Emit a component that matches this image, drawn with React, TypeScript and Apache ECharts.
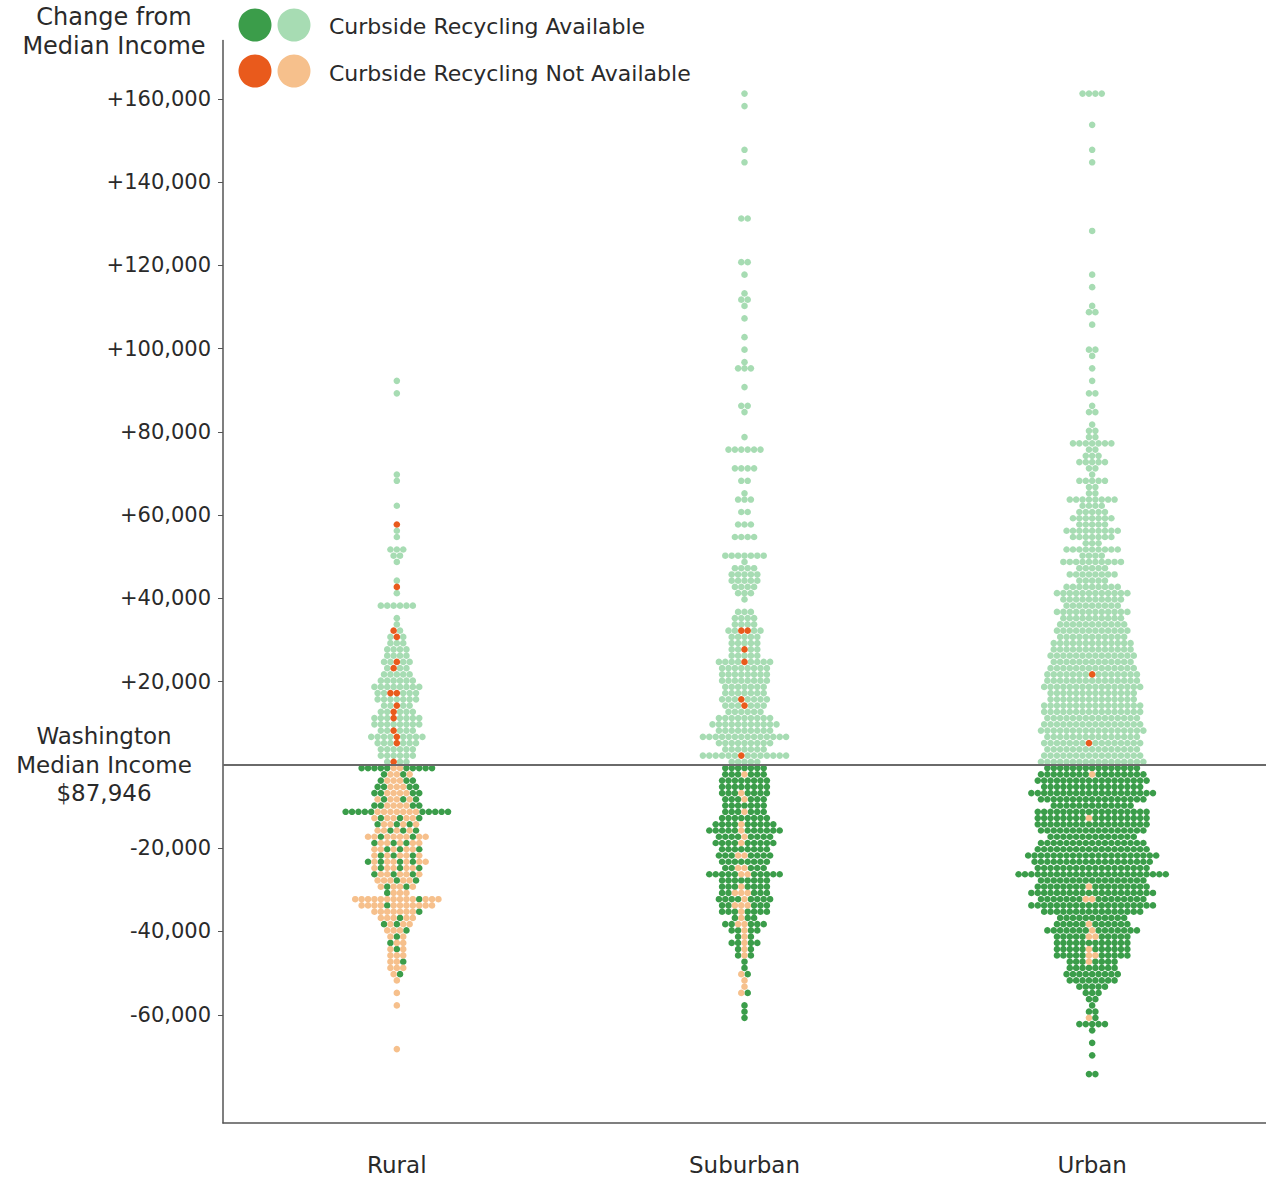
import React, { useEffect, useRef } from "react";
import * as echarts from "echarts";

// ---------------- data ----------------
const CATEGORIES = ["Rural", "Suburban", "Urban"];

// Dots are grouped in income levels (change from median income, USD),
// level i has value LEVEL_TOP - i * LEVEL_STEP. Arrays hold dot counts per level.
const LEVEL_TOP = 161250;
const LEVEL_STEP = 1500;

const RURAL_AVAIL = [
  0, 0, 0, 0, 0, 0, 0, 0, 0, 0,
  0, 0, 0, 0, 0, 0, 0, 0, 0, 0,
  0, 0, 0, 0, 0, 0, 0, 0, 0, 0,
  0, 0, 0, 0, 0, 0, 0, 0, 0, 0,
  0, 0, 0, 0, 0, 0, 1, 0, 1, 0,
  0, 0, 0, 0, 0, 0, 0, 0, 0, 0,
  0, 1, 1, 0, 0, 0, 1, 0, 0, 0,
  1, 1, 0, 3, 2, 1, 0, 0, 1, 0,
  1, 0, 6, 0, 1, 1, 1, 2, 3, 4,
  4, 4, 3, 5, 6, 8, 5, 7, 4, 5,
  7, 8, 5, 8, 6, 6, 6, 3, 10, 2,
  3, 4, 4, 3, 4, 10, 3, 3, 3, 2,
  3, 3, 3, 4, 3, 3, 2, 2, 1, 1,
  1, 1, 1, 2, 1, 1, 1, 1, 0, 1,
  0, 1, 0, 0, 0, 0, 0, 0, 0, 0,
  0, 0, 0, 0, 0, 0, 0, 0,
];
const RURAL_NOT = [
  0, 0, 0, 0, 0, 0, 0, 0, 0, 0,
  0, 0, 0, 0, 0, 0, 0, 0, 0, 0,
  0, 0, 0, 0, 0, 0, 0, 0, 0, 0,
  0, 0, 0, 0, 0, 0, 0, 0, 0, 0,
  0, 0, 0, 0, 0, 0, 0, 0, 0, 0,
  0, 0, 0, 0, 0, 0, 0, 0, 0, 0,
  0, 0, 0, 0, 0, 0, 0, 0, 0, 1,
  0, 0, 0, 0, 0, 0, 0, 0, 0, 1,
  0, 0, 0, 0, 0, 0, 1, 1, 0, 0,
  0, 1, 1, 0, 0, 0, 2, 0, 1, 1,
  1, 0, 1, 1, 1, 0, 0, 1, 2, 3,
  3, 3, 4, 4, 4, 7, 5, 4, 4, 8,
  5, 5, 5, 6, 5, 5, 5, 4, 3, 13,
  11, 7, 5, 3, 3, 2, 2, 2, 3, 2,
  3, 1, 1, 0, 1, 0, 1, 0, 0, 0,
  0, 0, 0, 1, 0, 0, 0, 0,
];
const SUBURBAN_AVAIL = [
  1, 0, 1, 0, 0, 0, 0, 0, 0, 1,
  0, 1, 0, 0, 0, 0, 0, 0, 0, 0,
  2, 0, 0, 0, 0, 0, 0, 2, 0, 1,
  0, 0, 1, 2, 1, 0, 1, 0, 0, 1,
  0, 1, 0, 1, 3, 0, 0, 1, 0, 0,
  2, 1, 0, 0, 0, 1, 0, 6, 0, 0,
  4, 0, 2, 0, 1, 3, 0, 2, 0, 3,
  0, 4, 0, 0, 7, 1, 4, 5, 5, 4,
  3, 1, 0, 3, 4, 4, 4, 5, 5, 4,
  5, 8, 8, 8, 8, 7, 7, 7, 6, 6,
  9, 11, 9, 14, 9, 7, 13, 5, 7, 6,
  8, 8, 7, 6, 7, 6, 8, 9, 11, 8,
  9, 8, 7, 8, 5, 10, 8, 7, 5, 8,
  5, 7, 3, 5, 4, 2, 4, 2, 2, 1,
  1, 1, 0, 0, 1, 0, 1, 1, 1, 0,
  0, 0, 0, 0, 0, 0, 0, 0,
];
const SUBURBAN_NOT = [
  0, 0, 0, 0, 0, 0, 0, 0, 0, 0,
  0, 0, 0, 0, 0, 0, 0, 0, 0, 0,
  0, 0, 0, 0, 0, 0, 0, 0, 0, 0,
  0, 0, 0, 0, 0, 0, 0, 0, 0, 0,
  0, 0, 0, 0, 0, 0, 0, 0, 0, 0,
  0, 0, 0, 0, 0, 0, 0, 0, 0, 0,
  0, 0, 0, 0, 0, 0, 0, 0, 0, 0,
  0, 0, 0, 0, 0, 0, 0, 0, 0, 0,
  0, 0, 0, 0, 0, 0, 2, 0, 0, 1,
  0, 1, 0, 0, 0, 0, 0, 1, 1, 0,
  0, 0, 0, 0, 0, 0, 1, 0, 0, 1,
  0, 0, 1, 1, 0, 1, 0, 1, 1, 1,
  1, 0, 2, 0, 2, 2, 0, 1, 3, 1,
  3, 1, 1, 2, 1, 1, 1, 1, 1, 0,
  0, 1, 1, 1, 1, 0, 0, 0, 0, 0,
  0, 0, 0, 0, 0, 0, 0, 0,
];
const URBAN_AVAIL = [
  4, 0, 0, 0, 0, 1, 0, 0, 0, 1,
  0, 1, 0, 0, 0, 0, 0, 0, 0, 0,
  0, 0, 1, 0, 0, 0, 0, 0, 0, 1,
  0, 1, 0, 0, 1, 2, 0, 1, 0, 0,
  0, 2, 1, 0, 1, 0, 1, 0, 2, 0,
  1, 2, 0, 1, 2, 2, 7, 2, 3, 5,
  2, 1, 5, 2, 2, 8, 4, 5, 7, 5,
  9, 7, 3, 9, 4, 10, 5, 8, 5, 9,
  12, 10, 9, 12, 10, 11, 12, 11, 13, 13,
  14, 13, 14, 14, 15, 16, 14, 14, 16, 16,
  15, 16, 17, 15, 15, 15, 16, 17, 15, 16,
  18, 16, 20, 17, 13, 18, 17, 18, 17, 14,
  17, 18, 21, 19, 18, 24, 17, 17, 20, 15,
  20, 16, 11, 11, 14, 10, 12, 11, 10, 7,
  8, 9, 8, 5, 3, 2, 1, 2, 1, 5,
  1, 0, 1, 0, 1, 0, 0, 2,
];
const URBAN_NOT = [
  0, 0, 0, 0, 0, 0, 0, 0, 0, 0,
  0, 0, 0, 0, 0, 0, 0, 0, 0, 0,
  0, 0, 0, 0, 0, 0, 0, 0, 0, 0,
  0, 0, 0, 0, 0, 0, 0, 0, 0, 0,
  0, 0, 0, 0, 0, 0, 0, 0, 0, 0,
  0, 0, 0, 0, 0, 0, 0, 0, 0, 0,
  0, 0, 0, 0, 0, 0, 0, 0, 0, 0,
  0, 0, 0, 0, 0, 0, 0, 0, 0, 0,
  0, 0, 0, 0, 0, 0, 0, 0, 0, 0,
  0, 0, 0, 1, 0, 0, 0, 0, 0, 0,
  0, 0, 0, 0, 1, 0, 0, 0, 0, 1,
  0, 0, 0, 0, 0, 0, 1, 0, 0, 0,
  0, 0, 0, 0, 0, 0, 0, 1, 0, 2,
  0, 0, 0, 1, 1, 2, 0, 1, 2, 1,
  0, 0, 0, 0, 0, 0, 0, 0, 1, 0,
  0, 0, 0, 0, 0, 0, 0, 0,
];

const Y_TICKS = [
  160000, 140000, 120000, 100000, 80000, 60000, 40000, 20000,
  -20000, -40000, -60000,
];
const Y_MIN = -86000;
const Y_MAX = 174000;
const MEDIAN_LABEL = ["Washington", "Median Income", "$87,946"];
const AXIS_TITLE = ["Change from", "Median Income"];
const LEGEND_AVAIL = "Curbside Recycling Available";
const LEGEND_NOT = "Curbside Recycling Not Available";

// ---------------- style ----------------
const DARK_GREEN = "#3b9d4a";
const LIGHT_GREEN = "#a7dcb3";
const ORANGE = "#e95a1c";
const PEACH = "#f6c08c";
const FONT = '"DejaVu Sans", sans-serif';
const TEXT = "#2a2a2a";
const DOT_SPACING = 6.4;
const DOT_SIZE = 6.6;
const PHASE_STEP = 0.618; // shifts the mixing pattern from row to row (layout only)

type Item = { value: [number, number]; symbolOffset: [number, number] };

function buildSwarm(avail: number[], notAvail: number[], cat: number) {
  const out: Record<string, Item[]> = {
    availAbove: [],
    availBelow: [],
    notAbove: [],
    notBelow: [],
  };
  const n = Math.max(avail.length, notAvail.length);
  for (let i = 0; i < n; i++) {
    const a = avail[i] || 0;
    const b = notAvail[i] || 0;
    const total = a + b;
    if (!total) continue;
    const value = LEVEL_TOP - i * LEVEL_STEP;
    const above = value > 0;
    const slots: number[] = [];
    for (let k = 0; k < total; k++) slots.push(k - (total - 1) / 2);
    const isNotSlot: boolean[] = new Array(total).fill(false);
    if (b > a) {
      // majority not-available: scatter the available dots through the row,
      // with a pattern that shifts from row to row
      const phase = (i * PHASE_STEP) % 1;
      const availSlots = new Set<number>();
      for (let k = 0; k < a; k++) {
        let pos = Math.floor(((k + phase) * total) / a) % total;
        while (availSlots.has(pos)) pos = (pos + 1) % total;
        availSlots.add(pos);
      }
      for (let k = 0; k < total; k++) isNotSlot[k] = !availSlots.has(k);
    } else {
      // minority not-available: place them at the centre of the row
      const order = slots
        .map((s, k) => ({ s, k }))
        .sort((p, q) => Math.abs(p.s) - Math.abs(q.s) || p.s - q.s);
      for (let k = 0; k < b; k++) isNotSlot[order[k].k] = true;
    }
    slots.forEach((s, k) => {
      const key = isNotSlot[k]
        ? above ? "notAbove" : "notBelow"
        : above ? "availAbove" : "availBelow";
      out[key].push({ value: [cat, value], symbolOffset: [s * DOT_SPACING, 0] });
    });
  }
  return out;
}

function fmt(v: number) {
  const s = Math.abs(v).toLocaleString("en-US");
  return v > 0 ? "+" + s : v < 0 ? "-" + s : s;
}

export default function App() {
  const ref = useRef<HTMLDivElement>(null);

  useEffect(() => {
    if (!ref.current) return;
    const chart = echarts.init(ref.current, undefined, { renderer: "svg" });

    const groups = [
      buildSwarm(RURAL_AVAIL, RURAL_NOT, 0),
      buildSwarm(SUBURBAN_AVAIL, SUBURBAN_NOT, 1),
      buildSwarm(URBAN_AVAIL, URBAN_NOT, 2),
    ];
    const collect = (key: string) => groups.flatMap((g) => g[key]);

    const dotSeries = (name: string, key: string, color: string, z: number) => ({
      name,
      type: "scatter",
      data: collect(key),
      symbol: "circle",
      symbolSize: DOT_SIZE,
      itemStyle: { color, opacity: 1 },
      z,
      silent: true,
    });

    const option: any = {
      animation: false,
      backgroundColor: "#ffffff",
      grid: { left: 223, right: -4, top: 40.5, bottom: 59, containLabel: false },
      xAxis: {
        type: "category",
        data: CATEGORIES,
        axisLine: { onZero: false, lineStyle: { color: "#555", width: 1.5 } },
        axisTick: { alignWithLabel: true, length: 7, lineStyle: { color: "#555" } },
        axisLabel: {
          fontSize: 23,
          fontFamily: FONT,
          color: TEXT,
          margin: 30,
        },
        splitLine: { show: false },
      },
      yAxis: {
        type: "value",
        min: Y_MIN,
        max: Y_MAX,
        axisLine: { show: true, lineStyle: { color: "#555", width: 1.5 } },
        axisTick: {
          show: true,
          length: 5,
          customValues: Y_TICKS,
          lineStyle: { color: "#555" },
        },
        axisLabel: {
          customValues: Y_TICKS,
          formatter: (v: number) => fmt(v),
          fontSize: 21,
          fontFamily: FONT,
          color: TEXT,
          margin: 12,
        },
        splitLine: { show: false },
      },
      series: [
        {
          name: "median",
          type: "scatter",
          data: [],
          z: 1,
          markLine: {
            silent: true,
            symbol: "none",
            label: { show: false },
            lineStyle: { color: "#6a6a6a", width: 2, type: "solid" },
            data: [{ yAxis: 0 }],
          },
        },
        dotSeries("Available (above)", "availAbove", LIGHT_GREEN, 3),
        dotSeries("Available (below)", "availBelow", DARK_GREEN, 3),
        dotSeries("Not available (above)", "notAbove", ORANGE, 4),
        dotSeries("Not available (below)", "notBelow", PEACH, 4),
      ],
      graphic: [
        ...AXIS_TITLE.map((t, k) => ({
          type: "text",
          x: 114,
          y: 17 + k * 29,
          style: {
            text: t,
            fontSize: 24,
            fontFamily: FONT,
            fill: TEXT,
            align: "center",
            verticalAlign: "middle",
          },
        })),
        ...MEDIAN_LABEL.map((t, k) => ({
          type: "text",
          x: 104,
          y: 736 + k * 28.5,
          style: {
            text: t,
            fontSize: 23,
            fontFamily: FONT,
            fill: TEXT,
            align: "center",
            verticalAlign: "middle",
          },
        })),
        { type: "circle", shape: { cx: 255, cy: 25, r: 16.5 }, style: { fill: DARK_GREEN } },
        { type: "circle", shape: { cx: 294, cy: 25, r: 16.5 }, style: { fill: LIGHT_GREEN } },
        { type: "circle", shape: { cx: 255, cy: 71, r: 16.5 }, style: { fill: ORANGE } },
        { type: "circle", shape: { cx: 294, cy: 71, r: 16.5 }, style: { fill: PEACH } },
        {
          type: "text",
          x: 329,
          y: 26,
          style: {
            text: LEGEND_AVAIL,
            fontSize: 22,
            fontFamily: FONT,
            fill: TEXT,
            align: "left",
            verticalAlign: "middle",
          },
        },
        {
          type: "text",
          x: 329,
          y: 73,
          style: {
            text: LEGEND_NOT,
            fontSize: 22,
            fontFamily: FONT,
            fill: TEXT,
            align: "left",
            verticalAlign: "middle",
          },
        },
      ],
    };

    chart.setOption(option);
    return () => chart.dispose();
  }, []);

  return (
    <div
      ref={ref}
      style={{ position: "absolute", left: 0, top: 0, width: 1266, height: 1182 }}
    />
  );
}
